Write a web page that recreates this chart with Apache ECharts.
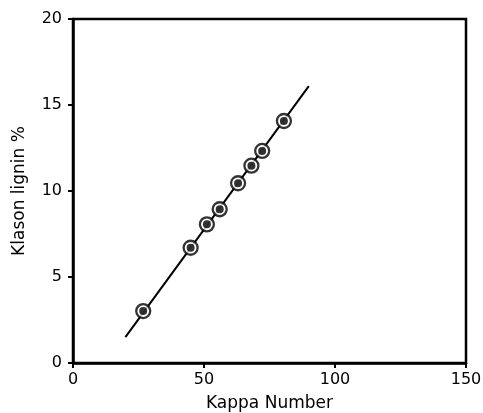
<!DOCTYPE html>
<html>
<head>
<meta charset="utf-8">
<script src="https://cdn.jsdelivr.net/npm/echarts@6/dist/echarts.min.js"></script>
<style>
  html, body { margin: 0; padding: 0; background: #fff; }
  #chart { width: 483px; height: 413px; }
</style>
</head>
<body>
<div id="chart"></div>
<script>
// measured samples
const kappa = [26.8, 44.9, 51.1, 56.0, 63.0, 68.1, 72.2, 80.5];
const lignin = [3.02, 6.70, 8.06, 8.94, 10.45, 11.47, 12.33, 14.07];
// fitted line end points
const fitX = [20, 90];
const fitY = [1.5, 16.1];

const xTicks = [0, 50, 100, 150];
const yTicks = [0, 5, 10, 15, 20];

const points = kappa.map((k, i) => [k, lignin[i]]);
const fitLine = fitX.map((x, i) => [x, fitY[i]]);

const font = 'DejaVu Sans';
const chart = echarts.init(document.getElementById('chart'));

chart.setOption({
  animation: false,
  backgroundColor: '#fff',
  grid: {
    left: 73, right: 17, top: 19, bottom: 50,
    containLabel: false,
    outerBoundsMode: 'none',
    show: true,
    borderColor: '#000',
    borderWidth: 2.5
  },
  xAxis: {
    type: 'value',
    min: xTicks[0],
    max: xTicks[xTicks.length - 1],
    interval: 50,
    name: 'Kappa Number',
    nameLocation: 'middle',
    nameGap: 32,
    nameTextStyle: { color: '#000', fontSize: 17, fontFamily: font },
    axisLine: { show: true, lineStyle: { color: '#000', width: 2.5 } },
    axisTick: { show: true, length: 5, lineStyle: { color: '#000', width: 2 } },
    axisLabel: { color: '#000', fontSize: 16, fontFamily: font, margin: 9 },
    splitLine: { show: false }
  },
  yAxis: {
    type: 'value',
    min: yTicks[0],
    max: yTicks[yTicks.length - 1],
    interval: 5,
    name: 'Klason lignin %',
    nameLocation: 'middle',
    nameGap: 45,
    nameTextStyle: { color: '#000', fontSize: 17, fontFamily: font },
    axisLine: { show: true, lineStyle: { color: '#000', width: 2.5 } },
    axisTick: { show: true, length: 5, lineStyle: { color: '#000', width: 2 } },
    axisLabel: { color: '#000', fontSize: 16, fontFamily: font, margin: 11 },
    splitLine: { show: false }
  },
  series: [
    {
      type: 'line',
      data: fitLine,
      symbol: 'none',
      lineStyle: { color: '#000', width: 2 },
      z: 1
    },
    {
      type: 'scatter',
      data: points,
      symbol: 'circle',
      symbolSize: 14,
      itemStyle: { color: '#fff', borderColor: '#000', borderWidth: 2.3 },
      z: 2
    },
    {
      type: 'scatter',
      data: points,
      symbol: 'circle',
      symbolSize: 8,
      itemStyle: { color: '#000' },
      z: 3
    }
  ]
});
</script>
</body>
</html>
